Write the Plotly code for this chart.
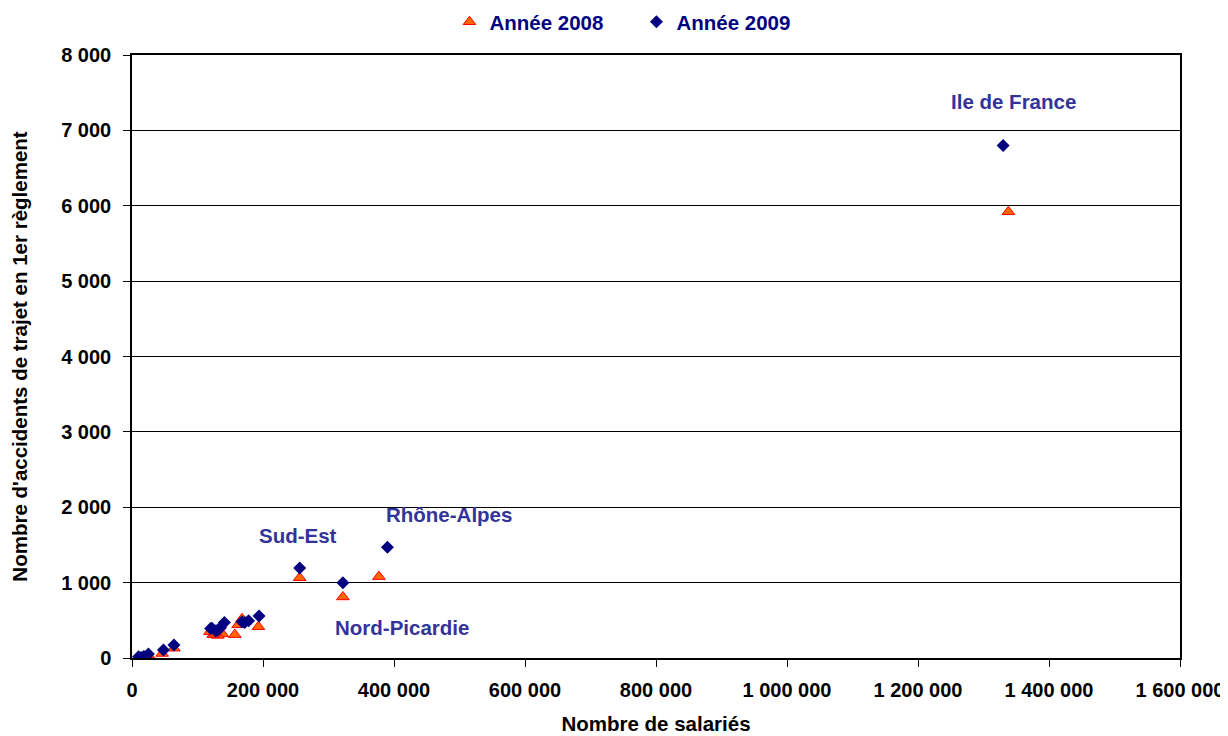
import plotly.graph_objects as go

# Année 2008 (nombre de salariés, accidents de trajet en 1er règlement)
sal_2008 = [1338000, 377000, 322000, 256000, 193000, 168000, 162000, 157000,
            138000, 131000, 119000, 124000, 172000, 64000, 46000, 25000,
            18000, 10000, 14000, 126000]
acc_2008 = [5920, 1080, 810, 1065, 415, 520, 440, 310,
            320, 300, 350, 310, 480, 130, 60, 40,
            10, 5, 0, 330]

# Année 2009
sal_2009 = [1330000, 390000, 322000, 256000, 194000, 178000, 168000, 172000,
            141000, 135000, 122000, 128000, 131000, 64000, 48000, 25000,
            18000, 10000, 14000, 120000]
acc_2009 = [6800, 1470, 1000, 1195, 557, 495, 480, 470,
            470, 400, 395, 360, 372, 172, 106, 53,
            20, 15, 5, 390]

# Étiquettes de régions
lbl_text = ["Ile de France", "Rhône-Alpes", "Sud-Est", "Nord-Picardie"]
lbl_x = [1346000, 484000, 253000, 412000]
lbl_y = [7380, 1900, 1630, 410]

x_ticks = list(range(0, 1600001, 200000))
y_ticks = list(range(0, 8001, 1000))

FONT = "Liberation Sans, Arial, sans-serif"
LABEL_COL = "#333399"
FS = 20        # tick labels
FT = 20.5      # titles, legend, labels

fig = go.Figure()
fig.add_trace(go.Scatter(
    x=sal_2008, y=acc_2008, mode="markers", name="Année 2008",
    marker=dict(symbol="triangle-up", size=11, color="#FF6600",
                line=dict(color="#FF0000", width=1)),
))
fig.add_trace(go.Scatter(
    x=sal_2009, y=acc_2009, mode="markers", name="Année 2009",
    marker=dict(symbol="diamond", size=10, color="#000080",
                line=dict(color="#000080", width=0)),
))

for t, x, y in zip(lbl_text, lbl_x, lbl_y):
    fig.add_annotation(x=x, y=y, text=t, showarrow=False,
                       font=dict(size=FT, color=LABEL_COL, family=FONT, weight="bold"))

fig.update_layout(
    width=1228, height=736,
    separators=", ",
    plot_bgcolor="white", paper_bgcolor="white",
    font=dict(family=FONT, size=FS, color="black", weight="bold"),
    margin=dict(l=124, r=56, t=47, b=86, autoexpand=False),
    showlegend=True,
    legend=dict(orientation="h", xref="container", yref="container",
                x=0.3595, xanchor="left", y=0.981, yanchor="middle",
                font=dict(size=FT, color="#000080", family=FONT, weight="bold"),
                itemwidth=30, entrywidth=142),
    xaxis=dict(
        range=[0, 1600000], tickvals=x_ticks, tickformat=",d",
        showgrid=False, zeroline=False, automargin=False,
        showline=True, linecolor="black", linewidth=1.5, mirror=True,
        ticks="outside", ticklen=7, tickcolor="black", ticklabelstandoff=6,
        tickfont=dict(size=FS, family=FONT, weight="bold"),
        title=dict(text="Nombre de salariés",
                   font=dict(size=FT, family=FONT, weight="bold"), standoff=17),
    ),
    yaxis=dict(
        range=[0, 8000], tickvals=y_ticks, tickformat=",d",
        showgrid=True, gridcolor="black", gridwidth=1.2, zeroline=False, automargin=False,
        showline=True, linecolor="black", linewidth=1.5, mirror=True,
        ticks="outside", ticklen=7, tickcolor="black", ticklabelstandoff=8,
        tickfont=dict(size=FS, family=FONT, weight="bold"),
        title=dict(text="Nombre d'accidents de trajet en 1er règlement",
                   font=dict(size=FT, family=FONT, weight="bold"), standoff=28),
    ),
)

fig.write_html("out.html")
